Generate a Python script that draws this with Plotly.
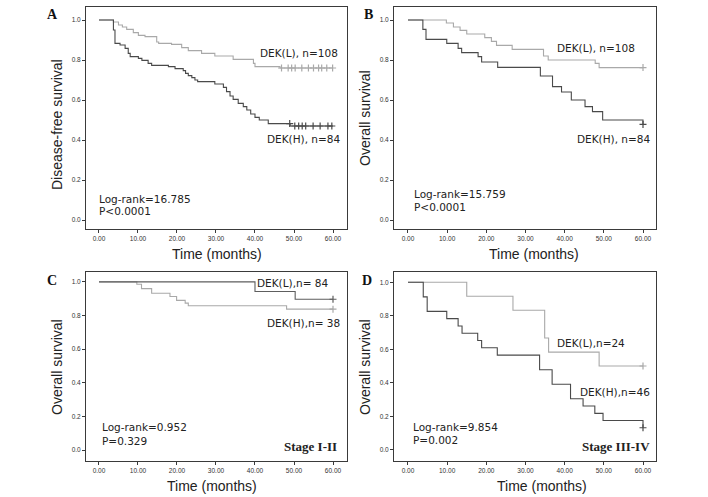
import numpy as np
import plotly.graph_objects as go

# ---------------- data ----------------
# Panel A: disease-free survival
A_L_time = [0, 3.7, 5.0, 6.0, 7.1, 8.8, 10.1, 11.8, 14.8, 15.3, 18.6, 21.2, 22.9, 26.3, 29.7, 34.4, 39.6, 40.0, 46.4, 60]
A_L_surv = [1.0, 0.99, 0.975, 0.965, 0.953, 0.937, 0.923, 0.917, 0.89, 0.883, 0.878, 0.862, 0.847, 0.833, 0.82, 0.803, 0.783, 0.767, 0.76, 0.76]
A_L_cens = [46.8, 48.5, 49.4, 50.3, 52.0, 53.7, 55.0, 56.3, 57.1, 58.4, 59.9]
A_H_time = [0, 3.7, 4.1, 5.4, 6.7, 7.5, 8.0, 10.1, 11.0, 12.6, 13.5, 17.8, 19.5, 21.6, 22.2, 22.9, 23.8, 24.6, 25.3,
            29.7, 31.9, 32.7, 33.6, 34.4, 35.7, 37.0, 37.9, 38.9, 40.0, 41.1, 43.4, 49.0, 60]
A_H_surv = [1.0, 0.95, 0.883, 0.875, 0.858, 0.833, 0.817, 0.808, 0.798, 0.783, 0.773, 0.767, 0.757, 0.747, 0.733, 0.722, 0.712, 0.70, 0.692,
            0.68, 0.663, 0.642, 0.62, 0.603, 0.583, 0.567, 0.55, 0.53, 0.513, 0.50, 0.482, 0.47, 0.47]
A_H_cens = [48.9, 50.2, 51.2, 52.1, 53.0, 54.9, 56.7, 58.7, 59.7]

# Panel B: overall survival
B_L_time = [0, 9.8, 11.6, 13.3, 15.0, 19.6, 21.3, 22.6, 26.6, 34.6, 35.8, 47.8, 48.8, 60]
B_L_surv = [1.0, 0.985, 0.965, 0.948, 0.93, 0.912, 0.893, 0.873, 0.853, 0.82, 0.80, 0.783, 0.762, 0.762]
B_L_cens = [60.0]
B_H_time = [0, 3.8, 4.6, 9.9, 12.8, 13.7, 17.9, 18.8, 22.9, 33.8, 36.9, 39.2, 41.7, 45.2, 47.1, 49.7, 60]
B_H_surv = [1.0, 0.953, 0.903, 0.883, 0.858, 0.837, 0.817, 0.79, 0.763, 0.72, 0.667, 0.64, 0.60, 0.567, 0.542, 0.50, 0.478]
B_H_cens = [60.0]

# Panel C: stage I-II
C_L_time = [0, 40.0, 50.3, 60]
C_L_surv = [1.0, 0.943, 0.897, 0.897]
C_L_cens = [60.0]
C_H_time = [0, 9.7, 10.9, 13.5, 18.2, 19.9, 22.1, 22.9, 48.1, 60]
C_H_surv = [1.0, 0.986, 0.96, 0.933, 0.913, 0.89, 0.874, 0.858, 0.838, 0.838]
C_H_cens = [60.0]

# Panel D: stage III-IV
D_L_time = [0, 15.0, 26.8, 34.9, 35.9, 48.8, 60]
D_L_surv = [1.0, 0.917, 0.833, 0.667, 0.583, 0.50, 0.50]
D_L_cens = [60.0]
D_H_time = [0, 3.9, 4.9, 9.9, 12.8, 13.8, 17.8, 18.8, 22.8, 33.6, 36.8, 41.5, 44.7, 47.7, 49.8, 60]
D_H_surv = [1.0, 0.913, 0.826, 0.783, 0.739, 0.696, 0.652, 0.609, 0.565, 0.478, 0.391, 0.304, 0.261, 0.217, 0.174, 0.131]
D_H_cens = [60.0]

x_ticks = [0, 10, 20, 30, 40, 50, 60]
y_ticks = [0.0, 0.2, 0.4, 0.6, 0.8, 1.0]

# ---------------- styling ----------------
LIGHT = "#a9a9a9"
DARK = "#4a4a4a"
MID = "#5e5e5e"
FRAME = "#3a3a3a"
LABEL_FONT = dict(family="DejaVu Sans", size=10.5, color="#222")
TITLE_FONT = dict(family="Liberation Sans", size=14, color="#222")
TICK_FONT = dict(family="Liberation Sans", size=6.5, color="#333")

fig = go.Figure()

panels = {
    "A": dict(ax="", dom_x=[86/708, 347/708], dom_y=[1-229/497, 1-7/497], xr=[-3.33, 63.59], yr=[-0.045, 1.065]),
    "B": dict(ax="2", dom_x=[394/708, 656/708], dom_y=[1-229/497, 1-7/497], xr=[-3.57, 63.32], yr=[-0.045, 1.065]),
    "C": dict(ax="3", dom_x=[86/708, 347/708], dom_y=[1-461/497, 1-272/497], xr=[-3.33, 63.59], yr=[-0.065, 1.059]),
    "D": dict(ax="4", dom_x=[394/708, 656/708], dom_y=[1-461/497, 1-272/497], xr=[-3.57, 63.32], yr=[-0.0675, 1.0615]),
}

curves = {
    "A": [(A_L_time, A_L_surv, A_L_cens, LIGHT), (A_H_time, A_H_surv, A_H_cens, DARK)],
    "B": [(B_L_time, B_L_surv, B_L_cens, LIGHT), (B_H_time, B_H_surv, B_H_cens, DARK)],
    "C": [(C_H_time, C_H_surv, C_H_cens, LIGHT), (C_L_time, C_L_surv, C_L_cens, MID)],
    "D": [(D_L_time, D_L_surv, D_L_cens, LIGHT), (D_H_time, D_H_surv, D_H_cens, DARK)],
}


def censor_y(times, surv, cens):
    t = np.asarray(times)
    s = np.asarray(surv)
    idx = np.searchsorted(t, np.asarray(cens), side="right") - 1
    return s[idx]


for key, p in panels.items():
    xa = "x" + p["ax"]
    ya = "y" + p["ax"]
    for times, surv, cens, col in curves[key]:
        fig.add_trace(go.Scatter(x=times, y=surv, mode="lines", line=dict(shape="hv", color=col, width=1.1),
                                 xaxis=xa, yaxis=ya, showlegend=False, hoverinfo="skip"))
        fig.add_trace(go.Scatter(x=cens, y=censor_y(times, surv, cens), mode="markers",
                                 marker=dict(symbol="cross-thin", size=5, line=dict(color=col, width=1.2)),
                                 xaxis=xa, yaxis=ya, showlegend=False, hoverinfo="skip"))
    axis_common = dict(showline=True, mirror=True, linecolor=FRAME, linewidth=1, ticks="outside", ticklen=3,
                       tickcolor=FRAME, tickwidth=1, showgrid=False, zeroline=False, tickfont=TICK_FONT)
    fig.update_layout(**{
        "xaxis" + p["ax"]: dict(domain=p["dom_x"], range=p["xr"], tickvals=x_ticks, tickformat=".2f",
                                 anchor=ya, **axis_common),
        "yaxis" + p["ax"]: dict(domain=p["dom_y"], range=p["yr"], tickvals=y_ticks, tickformat=".1f",
                                 anchor=xa, **axis_common),
    })

ann = []


def txt(text, x, y, ax, xanchor="left", font=LABEL_FONT):
    ann.append(dict(text=text, x=x, y=y, xref="x" + ax, yref="y" + ax, xanchor=xanchor, yanchor="middle",
                    showarrow=False, font=font))


STAGE_FONT = dict(family="Liberation Serif", size=13, color="#222")
# A
txt("DEK(L), n=108", 40.8, 0.835, "")
txt("DEK(H), n=84", 42.6, 0.405, "")
txt("Log-rank=16.785", -0.5, 0.105, "")
txt("P<0.0001", -0.5, 0.045, "")
# B
txt("DEK(L), n=108", 37.5, 0.86, "2")
txt("DEK(H), n=84", 42.6, 0.405, "2")
txt("Log-rank=15.759", 1.0, 0.13, "2")
txt("P<0.0001", 1.0, 0.065, "2")
# C
txt("DEK(L),n= 84", 40.0, 0.994, "3")
txt("DEK(H),n= 38", 42.6, 0.757, "3")
txt("Log-rank=0.952", 0.26, 0.136, "3")
txt("P=0.329", 0.26, 0.053, "3")
txt("<b>Stage I-II</b>", 61.5, 0.024, "3", xanchor="right", font=STAGE_FONT)
# D
txt("DEK(L),n=24", 37.5, 0.637, "4")
txt("DEK(H),n=46", 43.4, 0.345, "4")
txt("Log-rank=9.854", 0.77, 0.136, "4")
txt("P=0.002", 0.77, 0.058, "4")
txt("<b>Stage III-IV</b>", 62.3, 0.022, "4", xanchor="right", font=STAGE_FONT)


def ptxt(text, px, py, font, angle=0):
    ann.append(dict(text=text, x=px/708, y=1-py/497, xref="paper", yref="paper", xanchor="center",
                    yanchor="middle", showarrow=False, font=font, textangle=angle))


LETTER_FONT = dict(family="Liberation Serif", size=14, color="#111")
ptxt("<b>A</b>", 52, 15, LETTER_FONT)
ptxt("<b>B</b>", 368, 15, LETTER_FONT)
ptxt("<b>C</b>", 52, 280, LETTER_FONT)
ptxt("<b>D</b>", 367, 280, LETTER_FONT)

ptxt("Disease-free survival", 57, 124, TITLE_FONT, -90)
ptxt("Overall survival", 365, 118, TITLE_FONT, -90)
ptxt("Overall survival", 57, 367, TITLE_FONT, -90)
ptxt("Overall survival", 365, 367, TITLE_FONT, -90)

ptxt("Time (months)", 217, 254, TITLE_FONT)
ptxt("Time (months)", 534, 254, TITLE_FONT)
ptxt("Time (months)", 212, 486, TITLE_FONT)
ptxt("Time (months)", 542, 486, TITLE_FONT)

fig.update_layout(width=708, height=497, margin=dict(l=0, r=0, t=0, b=0), paper_bgcolor="white",
                  plot_bgcolor="white", annotations=ann)

fig.write_html("out.html", config={"displayModeBar": False},
               post_script="document.body.style.margin='0';document.body.style.overflow='hidden';"
                           "document.documentElement.style.overflow='hidden';")
